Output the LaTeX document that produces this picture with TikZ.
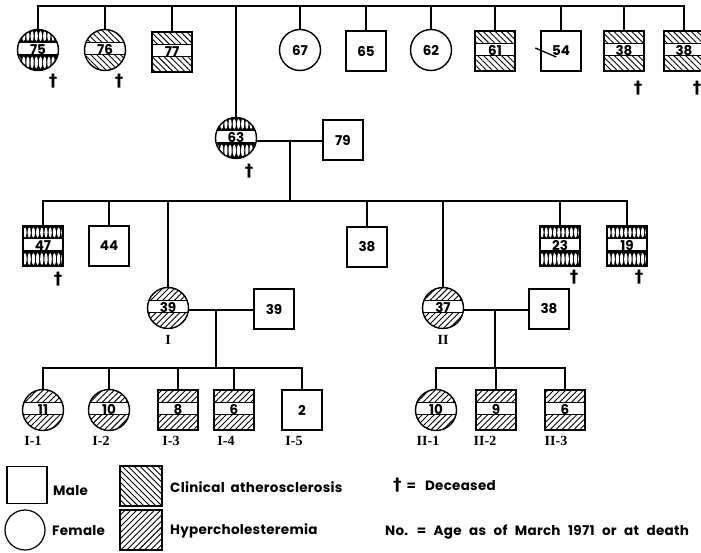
\documentclass[tikz,border=0pt]{standalone}
\usepackage{fontspec}
\setmainfont{Poppins}
\newfontfamily\dagfont{DejaVu Sans}
\newfontfamily\romfont{Liberation Serif}
\newfontfamily\legfont{Poppins}[LetterSpace=2]
\usetikzlibrary{calc,patterns.meta}
\newcommand\bands[1]{%
  \path[#1] (path picture bounding box.north west) rectangle ($(path picture bounding box.north east)!0.32!(path picture bounding box.south east)$);
  \path[#1] ($(path picture bounding box.north west)!0.62!(path picture bounding box.south west)$) rectangle (path picture bounding box.south east);
}
\newcommand\bandlines{%
  \draw[line width=1.1pt] ($(path picture bounding box.north west)!0.32!(path picture bounding box.south west)$) -- ($(path picture bounding box.north east)!0.32!(path picture bounding box.south east)$)
    ($(path picture bounding box.north west)!0.62!(path picture bounding box.south west)$) -- ($(path picture bounding box.north east)!0.62!(path picture bounding box.south east)$);
}
\newcommand\ovals{%
  \bands{fill=black}%
  \foreach \k in {0,...,10}{%
    \fill[white] ($(path picture bounding box.north west)+(\k*4.2+2,-6.5)$) ellipse[x radius=1.6pt,y radius=5pt];
    \fill[white] ($(path picture bounding box.north west)+(\k*4.2+2,-33)$) ellipse[x radius=1.6pt,y radius=6pt];
  }%
  \bandlines
}
\tikzset{
  x=1pt,y=1pt,
  ln/.style={line width=1.3pt},
  ind/.style={draw,line width=1.4pt,inner sep=0pt,font=\fontsize{13.5}{15}\selectfont\bfseries},
  male/.style={ind,rectangle,minimum width=40pt,minimum height=40pt},
  female/.style={ind,circle,minimum size=41pt},
  ath/.style={path picture={\bands{pattern={Lines[angle=-45,distance=4.2pt,line width=0.9pt]}}\bandlines}},
  hyp/.style={path picture={\bands{pattern={Lines[angle=45,distance=4.2pt,line width=0.9pt]}}\bandlines}},
  both/.style={path picture={\ovals}},
  athfull/.style={pattern={Lines[angle=-45,distance=4.2pt,line width=0.9pt]}},
  hypfull/.style={pattern={Lines[angle=45,distance=4.2pt,line width=0.9pt]}},
  dag/.style={font=\dagfont\bfseries\fontsize{17}{17}\selectfont,inner sep=0pt},
  rom/.style={font=\romfont\bfseries\fontsize{14}{16}\selectfont,inner sep=0pt},
  leg/.style={font=\legfont\fontsize{13.5}{15}\selectfont\bfseries,anchor=west,inner sep=0pt},
}
\newcommand\rb[1]{\raisebox{1.5pt}{#1}}
\begin{document}
\begin{tikzpicture}
\clip (0,0) rectangle (701,-552);
\fill[white] (0,0) rectangle (701,-552);
% generation I
\node[female,both] (n75) at (38,-50) {\rb{75}};
\node[female,ath] (n76) at (105,-50) {\rb{76}};
\node[male,ath] (n77) at (172,-52) {\rb{77}};
\node[female] (n67) at (300,-50) {67};
\node[male] (n65) at (366,-51) {65};
\node[female] (n62) at (431,-50) {62};
\node[male,ath] (n61) at (495,-51) {\rb{61}};
\node[male] (n54) at (561,-51) {54};
\node[male,ath] (n38a) at (624,-51) {\rb{38}};
\node[male,ath] (n38b) at (684,-51) {\rb{38}};
\coordinate (g1) at (0,-6);
\draw[ln] (n75.north) |- (n38b.north |- g1) -- (n38b.north);
\foreach \n in {n76,n77,n67,n65,n62,n61,n54,n38a} \draw[ln] (\n.north) -- (\n.north |- g1);
\draw[ln] ($(n54.west)+(-5,3)$) -- ($(n54.west)+(16,-6)$);
\node[dag] (d75) at ($(n75.center)+(15,-31)$) {†};
\node[dag] (d76) at ($(n76.center)+(14,-31)$) {†};
\node[dag] (d38a) at ($(n38a.center)+(14,-37)$) {†};
\node[dag] (d38b) at ($(n38b.center)+(13,-37)$) {†};
% generation II
\node[female,both] (n63) at (236,-138) {\rb{63}};
\node[male] (n79) at (343,-140) {79};
\draw[ln] (n63.north) -- (n63.north |- g1);
\node[dag] (d63) at ($(n63.center)+(13,-33)$) {†};
\coordinate (m1) at (290,-141);
\coordinate (g2) at (0,-201);
\draw[ln] (n63.east |- m1) -- (n79.west |- m1);
\draw[ln] (m1) -- (m1 |- g2);
% generation III
\node[male,both] (n47) at (43,-246) {\rb{47}};
\node[male] (n44) at (109,-246) {44};
\node[female,hyp] (n39) at (168,-308) {\rb{39}};
\node[male] (n38c) at (367,-247) {38};
\node[female,hyp] (n37) at (443,-308) {\rb{37}};
\node[male,both] (n23) at (560,-246) {\rb{23}};
\node[male,both] (n19) at (627,-246) {\rb{19}};
\draw[ln] (n47.north) |- (n19.north |- g2) -- (n19.north);
\foreach \n in {n44,n39,n38c,n37,n23} \draw[ln] (\n.north) -- (\n.north |- g2);
\node[dag] (d47) at ($(n47.center)+(15,-33)$) {†};
\node[dag] (d23) at ($(n23.center)+(14,-31)$) {†};
\node[dag] (d19) at ($(n19.center)+(12,-31)$) {†};
\node[rom] (lI) at (168,-340) {I};
\node[rom] (lII) at (443,-340) {II};
\node[male] (n39h) at (274,-309) {39};
\node[male] (n38d) at (549,-309) {38};
\coordinate (m2) at (216,-310);
\coordinate (m3) at (495,-310);
\coordinate (g3) at (0,-368);
\draw[ln] (n39.east |- m2) -- (n39h.west |- m2);
\draw[ln] (n37.east |- m3) -- (n38d.west |- m3);
\draw[ln] (m2) -- (m2 |- g3);
\draw[ln] (m3) -- (m3 |- g3);
% generation IV
\node[female,hyp] (i1) at (43,-410) {\rb{11}};
\node[female,hyp] (i2) at (109,-410) {\rb{10}};
\node[male,hyp] (i3) at (178,-410) {\rb{8}};
\node[male,hyp] (i4) at (234,-410) {\rb{6}};
\node[male] (i5) at (302,-410) {2};
\node[female,hyp] (j1) at (436,-410) {\rb{10}};
\node[male,hyp] (j2) at (496,-410) {\rb{9}};
\node[male,hyp] (j3) at (565,-410) {\rb{6}};
\draw[ln] (i1.north) |- (i5.north |- g3) -- (i5.north);
\foreach \n in {i2,i3,i4} \draw[ln] (\n.north) -- (\n.north |- g3);
\draw[ln] (j1.north) |- (j3.north |- g3) -- (j3.north);
\draw[ln] (j2.north) -- (j2.north |- g3);
\node[rom] (li1) at (33,-441) {I-1};
\node[rom] (li2) at (101,-441) {I-2};
\node[rom] (li3) at (171,-441) {I-3};
\node[rom] (li4) at (226,-441) {I-4};
\node[rom] (li5) at (294,-441) {I-5};
\node[rom] (lj1) at (428,-441) {II-1};
\node[rom] (lj2) at (485,-441) {II-2};
\node[rom] (lj3) at (556,-441) {II-3};
% legend
\node[draw,line width=1.2pt,minimum width=40pt,minimum height=37pt,inner sep=0pt] (kmale) at (27,-485) {};
\node[leg] (tmale) at (53,-491) {Male};
\node[draw,circle,line width=1.2pt,minimum size=40pt,inner sep=0pt] (kfem) at (25,-530) {};
\node[leg] (tfem) at (52,-531) {Female};
\node[draw,line width=1.2pt,minimum width=42pt,minimum height=40pt,inner sep=0pt,athfull] (kath) at (141,-486) {};
\node[leg] (tath) at (170,-487) {\spaceskip=6pt Clinical atherosclerosis};
\node[draw,line width=1.2pt,minimum width=42pt,minimum height=40pt,inner sep=0pt,hypfull] (khyp) at (141,-530) {};
\node[leg] (thyp) at (170,-531) {Hypercholesteremia};
\node[leg] (tdec) at (393,-485) {{\dagfont\bfseries\fontsize{17}{17}\selectfont †}\hspace{5pt}=\hspace{9pt}Deceased};
\node[leg] (tno) at (385,-532) {\spaceskip=7.5pt No. = Age as of March 1971 or at death};
\end{tikzpicture}
\end{document}
